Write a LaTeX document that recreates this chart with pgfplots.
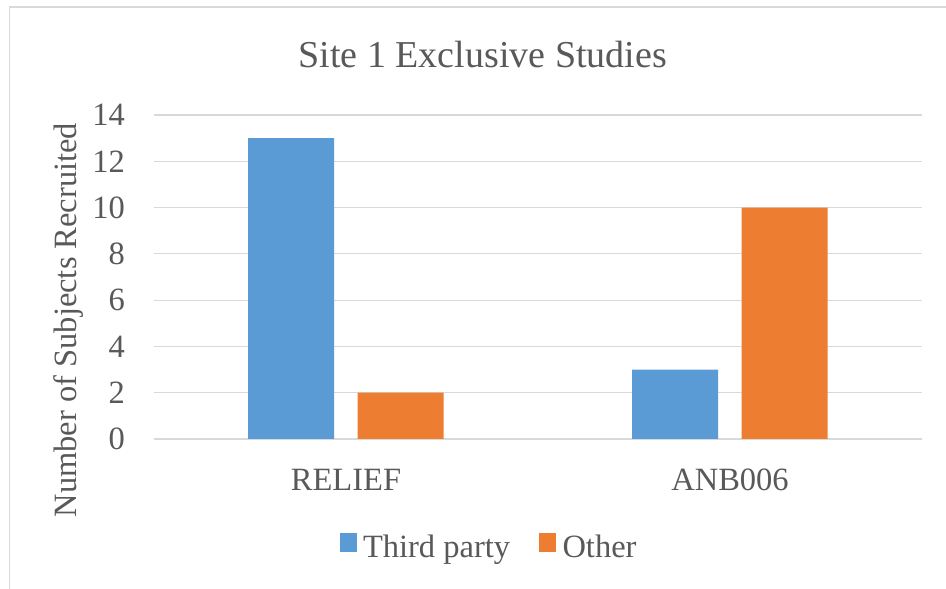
\documentclass[border=0pt]{standalone}
\usepackage{fontspec}
\setmainfont{Liberation Serif}
\usepackage{pgfplots}
\pgfplotsset{compat=1.18}

\definecolor{barblue}{HTML}{5B9BD5}
\definecolor{barorange}{HTML}{ED7D31}
\definecolor{textgray}{HTML}{595959}
\definecolor{gridgray}{HTML}{D9D9D9}

\begin{document}
\begin{tikzpicture}
  % chart area
  \useasboundingbox (0,0) rectangle (946bp,589bp);
  \fill[white] (0,0) rectangle (946bp,589bp);
  \draw[gridgray, line width=1.6bp] (9.5bp,-2bp) -- (9.5bp,582bp) -- (950bp,582bp);

  \begin{axis}[
    at={(154bp,150bp)}, anchor=south west,
    width=768bp, height=324bp, scale only axis,
    xmin=-0.5, xmax=1.5, ymin=0, ymax=14,
    xtick={0,1}, xticklabels={RELIEF,ANB006},
    ytick={0,2,...,14},
    major tick length=0pt,
    axis line style={draw=none},
    ymajorgrids, grid style={gridgray, line width=1.2bp},
    /pgf/number format/assume math mode=true,
    every tick label/.append style={font=\fontsize{32.5bp}{38bp}\selectfont, text=textgray, inner sep=0pt},
    xticklabel shift=30bp,
    yticklabel shift=29bp,
    title={Site 1 Exclusive Studies},
    every axis title shift=0pt,
    title style={at={(axis description cs:0.428,1.146)}, anchor=base,
      font=\fontsize{38bp}{44bp}\selectfont, text=textgray, inner sep=0pt},
    ylabel={Number of Subjects Recruited},
    every axis y label/.style={at={(axis description cs:-0.1003,0.367)}, anchor=base, rotate=90,
      font=\fontsize{32.5bp}{38bp}\selectfont, text=textgray, inner sep=0pt},
    legend columns=2,
    legend style={at={(axis description cs:0.435,-0.330)}, anchor=center,
      draw=none, fill=none, font=\fontsize{32.5bp}{38bp}\selectfont, text=textgray,
      nodes={inner sep=0pt},
      column sep=7bp,
      /tikz/every even column/.append style={column sep=29bp}},
    legend cell align=left,
  ]
    \addplot[ybar, bar width=86bp, bar shift=-55bp, fill=barblue, draw=none, forget plot]
      coordinates {(0,13) (1,3)};
    \addplot[ybar, bar width=86bp, bar shift=54.5bp, fill=barorange, draw=none, forget plot]
      coordinates {(0,2) (1,10)};

    \addlegendimage{legend image code/.code={\fill[barblue] (0bp,-4bp) rectangle (16bp,14bp);}}
    \addlegendentry{Third party}
    \addlegendimage{legend image code/.code={\fill[barorange] (0bp,-4bp) rectangle (16bp,14bp);}}
    \addlegendentry{Other}
  \end{axis}
\end{tikzpicture}
\end{document}
